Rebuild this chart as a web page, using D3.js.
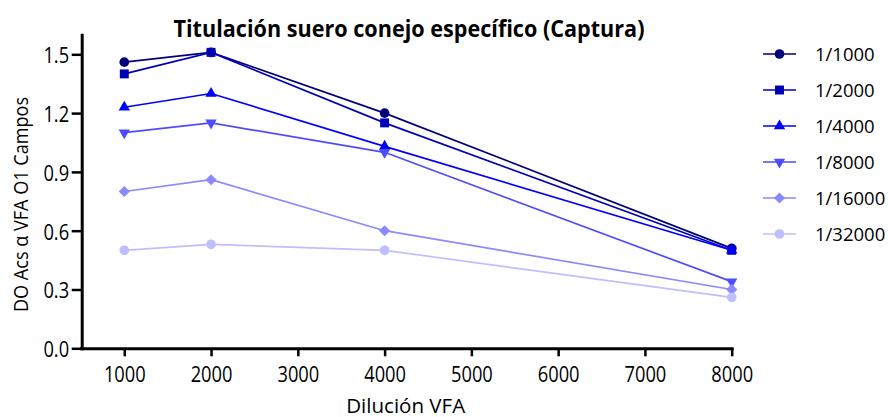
<!DOCTYPE html>
<html>
<head>
<meta charset="utf-8">
<script src="https://cdn.jsdelivr.net/npm/d3@7"></script>
<style>
  html, body { margin: 0; padding: 0; background: #fff; }
  svg { display: block; }
  text { font-family: "Open Sans", "Noto Sans", sans-serif; fill: #000; }
</style>
</head>
<body>
<svg id="chart" width="888" height="417"></svg>
<script>
// Dilución del conjugado VFA (eje X)
const dilutions = [1000, 2000, 4000, 8000];
// Dilución del suero de conejo (una serie por dilución)
const seriesNames = ["1/1000", "1/2000", "1/4000", "1/8000", "1/16000", "1/32000"];
const s1000  = [1.46, 1.51, 1.20, 0.51];
const s2000  = [1.40, 1.51, 1.15, 0.50];
const s4000  = [1.23, 1.30, 1.03, 0.50];
const s8000  = [1.10, 1.15, 1.00, 0.34];
const s16000 = [0.80, 0.86, 0.60, 0.30];
const s32000 = [0.50, 0.53, 0.50, 0.26];
const xTicks = [1000, 2000, 3000, 4000, 5000, 6000, 7000, 8000];
const yTicks = [0.0, 0.3, 0.6, 0.9, 1.2, 1.5];

const seriesValues = [s1000, s2000, s4000, s8000, s16000, s32000];
const colors = ["#00007a", "#0000b8", "#0000ff", "#4d4dff", "#8a8aff", "#bfbfff"];
const shapes = ["circle", "square", "triangle", "triangleDown", "diamond", "circle"];

const svg = d3.select("#chart");
const x = d3.scaleLinear().domain([500, 8000]).range([80.9, 731.7]);
const y = d3.scaleLinear().domain([0, 1.6]).range([348.3, 34.7]);

// Marker paths
function markerPath(shape) {
  switch (shape) {
    case "circle": return d3.symbol(d3.symbolCircle, 74)();
    case "square": return d3.symbol(d3.symbolSquare, 80)();
    case "triangle": return d3.symbol(d3.symbolTriangle, 56)();
    case "triangleDown": return d3.symbol(d3.symbolTriangle, 56)();
    case "diamond": return d3.symbol(d3.symbolSquare, 62)();
  }
}
function markerRotate(shape) {
  if (shape === "triangleDown") return " rotate(180)";
  if (shape === "diamond") return " rotate(45)";
  return "";
}

// Title
svg.append("text")
  .attr("x", 409).attr("y", 36.5)
  .attr("text-anchor", "middle")
  .style("font-weight", "700").style("font-size", "23.5px")
  .attr("textLength", 471).attr("lengthAdjust", "spacingAndGlyphs")
  .text("Titulación suero conejo específico (Captura)");

// X axis
const sx = 0.87;
const xAxis = svg.append("g")
  .attr("transform", "translate(0,348.3)")
  .call(d3.axisBottom(x).tickValues(xTicks).tickFormat(d3.format("d"))
    .tickSize(8).tickSizeOuter(0).tickPadding(11));
xAxis.select(".domain").attr("stroke-width", 3).attr("stroke", "#000");
xAxis.selectAll(".tick line").attr("stroke-width", 2.5).attr("stroke", "#000");
xAxis.selectAll(".tick text")
  .style("font-size", "21px").style("font-family", "'Open Sans', sans-serif")
  .attr("fill", "#000")
  .attr("transform", `scale(${sx},1)`);

// Y axis
const yAxis = svg.append("g")
  .attr("transform", "translate(81.7,0)")
  .call(d3.axisLeft(y).tickValues(yTicks).tickFormat(d3.format(".1f"))
    .tickSize(10).tickSizeOuter(0).tickPadding(3));
yAxis.select(".domain").attr("stroke-width", 3).attr("stroke", "#000");
yAxis.selectAll(".tick line").attr("stroke-width", 2.5).attr("stroke", "#000");
yAxis.selectAll(".tick text")
  .style("font-size", "21px").style("font-family", "'Open Sans', sans-serif")
  .attr("fill", "#000")
  .attr("x", -12.6 / sx).attr("dy", "0.4em")
  .attr("transform", `scale(${sx},1)`);
svg.selectAll(".domain").attr("stroke-linecap", "square");

// Axis titles
svg.append("text")
  .attr("x", 405.7).attr("y", 412.5)
  .attr("text-anchor", "middle")
  .style("font-size", "19.5px")
  .attr("textLength", 119).attr("lengthAdjust", "spacingAndGlyphs")
  .text("Dilución VFA");

svg.append("text")
  .attr("transform", "translate(28.3,204.5) rotate(-90)")
  .attr("text-anchor", "middle")
  .style("font-size", "20.5px")
  .attr("textLength", 215).attr("lengthAdjust", "spacingAndGlyphs")
  .text("DO Acs α VFA O1 Campos");

// Series lines and markers
const line = d3.line().x(d => x(d.x)).y(d => y(d.y));
const plot = svg.append("g");
seriesValues.forEach((vals, i) => {
  const pts = vals.map((v, j) => ({ x: dilutions[j], y: v }));
  const g = plot.append("g");
  g.append("path")
    .attr("d", line(pts))
    .attr("fill", "none")
    .attr("stroke", colors[i])
    .attr("stroke-width", 1.7);
  g.selectAll("path.mk").data(pts).join("path")
    .attr("class", "mk")
    .attr("d", markerPath(shapes[i]))
    .attr("transform", d => `translate(${x(d.x)},${y(d.y)})${markerRotate(shapes[i])}`)
    .attr("fill", colors[i]);
});

// Legend
const legend = svg.append("g");
seriesNames.forEach((name, i) => {
  const ly = 54 + i * 36;
  const g = legend.append("g").attr("transform", `translate(0,${ly})`);
  g.append("line")
    .attr("x1", 763).attr("x2", 796).attr("y1", 0).attr("y2", 0)
    .attr("stroke", colors[i]).attr("stroke-width", 1.7);
  g.append("path")
    .attr("d", markerPath(shapes[i]))
    .attr("transform", `translate(779.5,0)${markerRotate(shapes[i])}`)
    .attr("fill", colors[i]);
  g.append("text")
    .attr("x", 815).attr("y", 0).attr("dy", "0.36em")
    .style("font-size", "18.5px")
    .text(name);
});
</script>
</body>
</html>
